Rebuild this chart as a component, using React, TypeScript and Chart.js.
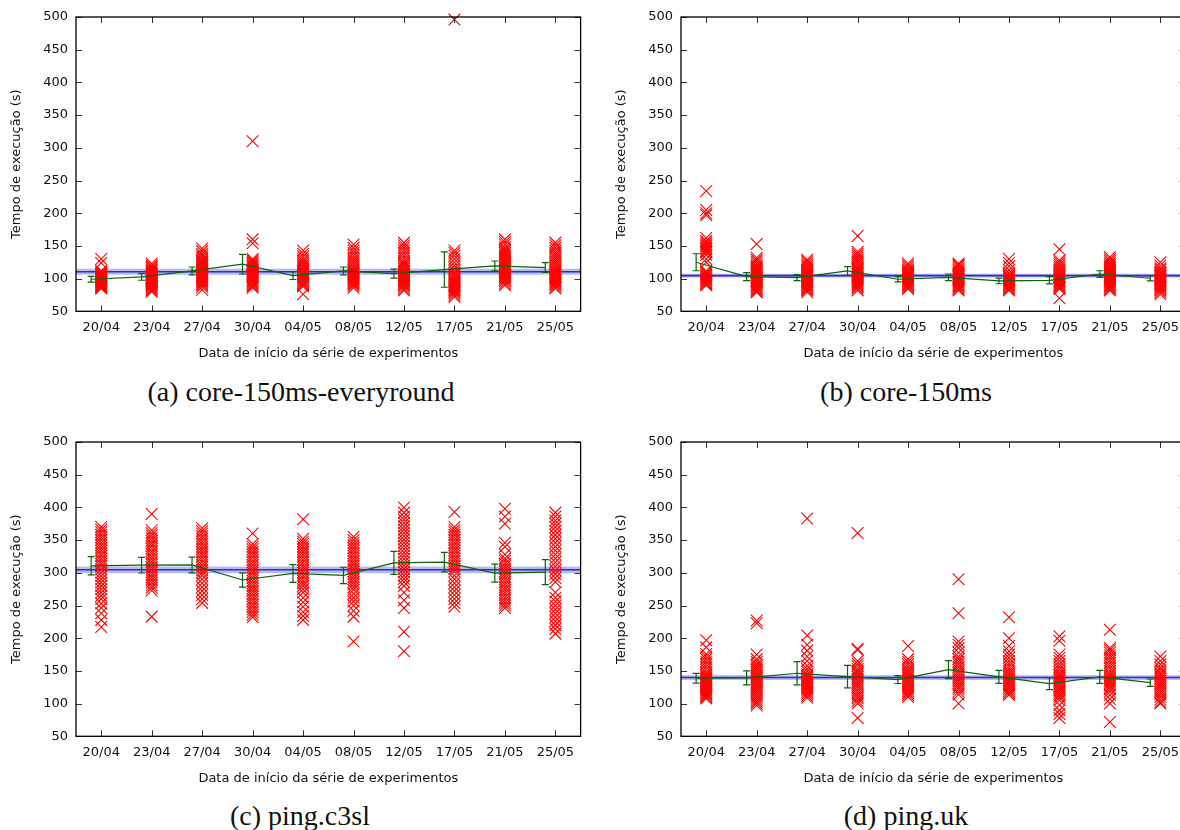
import React, { useEffect, useRef } from 'react';
import { Chart, registerables } from 'chart.js';

Chart.register(...registerables);
Chart.defaults.font.family = '"DejaVu Sans", sans-serif';

const DATES = ['20/04', '23/04', '27/04', '30/04', '04/05', '08/05', '12/05', '17/05', '21/05', '25/05'];
const Y_TICKS = [50, 100, 150, 200, 250, 300, 350, 400, 450, 500];
const Y_TITLE = 'Tempo de execução (s)';
const X_TITLE = 'Data de início da série de experimentos';

// (a) core-150ms-everyround
const A_POINTS = [
  [130, 124, 112, 110, 108, 107, 105, 104, 103, 102, 101, 100, 99, 98, 97, 96, 95, 94, 93, 92, 91, 90, 89, 88, 87, 86, 85],
  [123, 120, 118, 116, 114, 112, 110, 108, 106, 105, 104, 103, 102, 101, 100, 99, 98, 97, 96, 95, 94, 93, 92, 91, 90, 88, 86, 84, 82, 80],
  [146, 142, 138, 135, 132, 129, 127, 125, 123, 121, 119, 117, 115, 113, 111, 110, 108, 106, 104, 102, 100, 98, 96, 94, 92, 90, 87, 83],
  [310, 160, 154, 130, 128, 126, 124, 122, 120, 118, 116, 114, 112, 110, 108, 106, 104, 102, 100, 98, 96, 94, 92, 90, 88, 86],
  [143, 138, 134, 130, 127, 124, 121, 118, 115, 112, 110, 108, 106, 104, 102, 100, 98, 96, 94, 92, 90, 88, 76],
  [152, 147, 143, 139, 135, 131, 128, 125, 122, 119, 116, 113, 111, 109, 107, 105, 103, 101, 99, 97, 95, 93, 91, 89, 86],
  [155, 151, 147, 143, 139, 135, 131, 127, 124, 121, 118, 115, 112, 110, 108, 106, 104, 102, 100, 98, 96, 94, 92, 90, 88, 85, 82],
  [496, 143, 139, 135, 130, 125, 120, 116, 112, 109, 106, 103, 100, 98, 96, 94, 92, 90, 88, 86, 84, 82, 80, 78, 75, 72],
  [160, 156, 152, 148, 145, 142, 139, 136, 133, 130, 127, 124, 121, 118, 116, 114, 112, 110, 108, 106, 104, 102, 100, 98, 96, 93, 90],
  [155, 151, 147, 143, 140, 137, 134, 131, 128, 125, 122, 119, 116, 113, 110, 108, 106, 104, 102, 100, 98, 96, 94, 92, 90, 87, 85],
];
const A_MEANS = [99, 102.5, 111.7, 122, 104.6, 111.7, 107.6, 113.8, 119.4, 116.9];
const A_ERRS = [4.5, 5, 6, 15, 6, 6, 7, 27, 7.5, 7.5];
const A_AVG = 110.5;
const A_BAND = [106, 115];

// (b) core-150ms
const B_POINTS = [
  [234, 205, 200, 197, 162, 158, 155, 152, 150, 147, 145, 142, 140, 136, 130, 125, 112, 110, 108, 106, 104, 102, 100, 99, 97, 95, 93, 91, 90],
  [153, 132, 129, 126, 123, 120, 118, 116, 114, 112, 110, 108, 106, 104, 102, 100, 98, 96, 94, 92, 90, 88, 86, 84, 82, 80, 79],
  [129, 126, 123, 120, 117, 114, 112, 110, 108, 106, 104, 102, 100, 98, 96, 94, 92, 90, 88, 86, 84, 82, 79],
  [165, 141, 138, 135, 132, 129, 126, 123, 120, 117, 115, 113, 111, 109, 107, 105, 103, 101, 99, 97, 95, 93, 91, 89, 87, 85, 82],
  [123, 120, 117, 114, 112, 110, 108, 106, 104, 102, 100, 98, 96, 94, 92, 90, 88, 86, 84],
  [123, 121, 119, 116, 113, 110, 108, 106, 104, 102, 100, 98, 96, 94, 92, 90, 88, 86, 84, 82],
  [130, 124, 119, 113, 109, 106, 104, 102, 100, 98, 96, 94, 92, 90, 88, 86, 84, 82],
  [145, 128, 125, 122, 119, 116, 113, 110, 107, 104, 102, 100, 98, 96, 94, 92, 90, 88, 86, 84, 70],
  [133, 130, 127, 124, 121, 118, 116, 114, 112, 110, 108, 106, 104, 102, 100, 98, 96, 94, 92, 90, 88, 86, 84, 82],
  [125, 120, 116, 113, 110, 108, 106, 104, 102, 100, 98, 96, 94, 92, 90, 88, 86, 84, 82, 79, 76],
];
const B_MEANS = [125, 103, 101.5, 111.7, 99, 102, 96.4, 97.4, 107, 100.5];
const B_ERRS = [13, 6, 4.5, 6.6, 4, 5, 4.3, 5.6, 5, 4];
const B_AVG = 104.6;
const B_BAND = [101.5, 107.5];

// (c) ping.c3sl
const C_POINTS = [
  [370, 366, 362, 358, 354, 350, 346, 342, 338, 334, 330, 326, 322, 318, 314, 310, 305, 300, 295, 290, 285, 280, 275, 270, 265, 260, 253, 246, 238, 228, 217],
  [390, 365, 361, 357, 353, 349, 345, 341, 337, 333, 329, 325, 321, 317, 313, 309, 305, 301, 297, 293, 289, 285, 281, 277, 273, 233],
  [368, 364, 360, 356, 352, 348, 344, 340, 336, 332, 328, 324, 320, 316, 312, 308, 304, 300, 296, 290, 284, 278, 272, 266, 260, 254],
  [360, 344, 340, 336, 332, 328, 324, 320, 316, 312, 308, 304, 300, 296, 292, 288, 284, 280, 276, 272, 268, 264, 260, 256, 252, 248, 244, 240, 236, 232],
  [382, 352, 348, 344, 340, 336, 332, 328, 324, 320, 316, 312, 308, 304, 300, 296, 292, 288, 284, 280, 275, 270, 262, 255, 248, 240, 234, 228],
  [355, 350, 346, 342, 338, 334, 330, 326, 322, 318, 314, 310, 306, 302, 298, 294, 290, 286, 282, 278, 274, 268, 262, 256, 250, 242, 233, 195],
  [400, 392, 386, 381, 376, 371, 366, 361, 356, 351, 346, 341, 336, 331, 326, 321, 316, 311, 306, 301, 296, 291, 286, 280, 270, 258, 246, 210, 180],
  [393, 370, 366, 362, 358, 354, 350, 346, 342, 338, 334, 330, 326, 322, 318, 314, 310, 306, 302, 296, 290, 284, 278, 272, 266, 260, 254, 248],
  [398, 386, 375, 346, 340, 328, 322, 318, 314, 310, 306, 302, 298, 294, 290, 286, 282, 278, 274, 270, 266, 262, 258, 254, 250, 246],
  [392, 386, 380, 375, 370, 364, 358, 352, 346, 340, 334, 328, 322, 316, 310, 304, 298, 292, 286, 270, 262, 256, 250, 244, 238, 232, 226, 220, 214, 207],
];
const C_MEANS = [310.7, 311.7, 312, 289, 299, 296, 315.3, 316.3, 299.5, 301];
const C_ERRS = [14, 12, 12, 11, 13.5, 12.5, 17.6, 15, 13.8, 19];
const C_AVG = 304.6;
const C_BAND = [299.5, 309.5];

// (d) ping.uk
const D_POINTS = [
  [197, 186, 176, 172, 168, 164, 160, 156, 152, 148, 145, 142, 140, 138, 136, 134, 132, 130, 128, 126, 124, 122, 120, 118, 116, 114, 112, 110, 108],
  [227, 223, 175, 168, 164, 160, 157, 154, 151, 148, 145, 142, 139, 136, 133, 130, 127, 124, 121, 118, 115, 112, 109, 106, 103, 100, 97],
  [383, 204, 190, 181, 172, 165, 158, 153, 149, 145, 142, 139, 136, 133, 130, 127, 124, 121, 118, 115, 112, 109],
  [361, 184, 182, 165, 161, 157, 153, 150, 147, 144, 141, 138, 135, 132, 129, 126, 123, 120, 117, 114, 111, 108, 104, 100, 78],
  [188, 168, 164, 160, 156, 152, 149, 146, 143, 140, 137, 134, 131, 128, 125, 122, 119, 116, 113, 110],
  [290, 238, 195, 190, 185, 178, 172, 168, 164, 160, 156, 152, 149, 146, 143, 140, 137, 134, 131, 128, 125, 122, 118, 114, 100],
  [232, 200, 188, 180, 175, 170, 165, 161, 157, 153, 149, 146, 143, 140, 137, 134, 131, 128, 125, 122, 119, 116, 113],
  [203, 196, 175, 170, 165, 160, 156, 152, 148, 145, 142, 139, 136, 133, 130, 127, 124, 121, 118, 115, 112, 109, 105, 98, 90, 84, 78],
  [213, 185, 182, 178, 174, 170, 166, 162, 158, 154, 150, 146, 143, 140, 137, 134, 131, 128, 125, 122, 118, 113, 107, 100, 72],
  [172, 165, 160, 155, 151, 147, 144, 141, 138, 135, 132, 129, 126, 123, 120, 117, 114, 110, 106, 102, 100],
];
const D_MEANS = [138.8, 139.3, 146.4, 141.3, 136.7, 152, 140.8, 130.6, 140.8, 132];
const D_ERRS = [7.4, 10.7, 17.9, 17.3, 6, 13.8, 10, 9.2, 10, 5.6];
const D_AVG = 139.8;
const D_BAND = [136, 143.5];

const GREEN_OFFSET = -0.2;
const CANVAS_W = 590;
const CANVAS_H = 372;

type PanelProps = {
  points: number[][];
  means: number[];
  errs: number[];
  avg: number;
  band: number[];
  left: number;
  top: number;
};

function Panel({ points, means, errs, avg, band, left, top }: PanelProps) {
  const ref = useRef<HTMLCanvasElement | null>(null);

  useEffect(() => {
    if (!ref.current) return;
    const n = DATES.length;
    const scatter: { x: number; y: number }[] = [];
    points.forEach((col, i) => col.forEach((v) => scatter.push({ x: i, y: v })));
    const green = means.map((m, i) => ({ x: i + GREEN_OFFSET, y: m }));

    const errPlugin = {
      id: 'errbars',
      afterDatasetsDraw(chart: any) {
        const { ctx, scales } = chart;
        const xs = scales.x;
        const ys = scales.y;
        ctx.save();
        ctx.strokeStyle = '#0b640b';
        ctx.lineWidth = 1.2;
        ctx.beginPath();
        means.forEach((m, i) => {
          const px = xs.getPixelForValue(i + GREEN_OFFSET);
          const y1 = ys.getPixelForValue(m + errs[i]);
          const y2 = ys.getPixelForValue(m - errs[i]);
          ctx.moveTo(px, y1);
          ctx.lineTo(px, y2);
          ctx.moveTo(px - 3.5, y1);
          ctx.lineTo(px + 3.5, y1);
          ctx.moveTo(px - 3.5, y2);
          ctx.lineTo(px + 3.5, y2);
        });
        ctx.stroke();
        ctx.restore();
      },
    };

    const framePlugin = {
      id: 'frame',
      afterDraw(chart: any) {
        const { ctx, chartArea: a, scales } = chart;
        const xs = scales.x;
        const ys = scales.y;
        const L = 6;
        ctx.save();
        ctx.strokeStyle = '#333';
        ctx.lineWidth = 1;
        ctx.beginPath();
        DATES.forEach((_, i) => {
          const px = Math.round(xs.getPixelForValue(i)) + 0.5;
          ctx.moveTo(px, a.bottom);
          ctx.lineTo(px, a.bottom - L);
          ctx.moveTo(px, a.top);
          ctx.lineTo(px, a.top + L);
        });
        Y_TICKS.forEach((v) => {
          const py = Math.round(ys.getPixelForValue(v)) + 0.5;
          ctx.moveTo(a.left, py);
          ctx.lineTo(a.left + L, py);
          ctx.moveTo(a.right, py);
          ctx.lineTo(a.right - L, py);
        });
        ctx.stroke();
        ctx.strokeStyle = '#000';
        ctx.lineWidth = 1.3;
        ctx.strokeRect(a.left, a.top, a.right - a.left, a.bottom - a.top);
        ctx.restore();
      },
    };

    const chart = new Chart(ref.current, {
      type: 'line',
      data: {
        datasets: [
          {
            type: 'line',
            data: [{ x: -0.5, y: band[1] }, { x: n - 0.5, y: band[1] }],
            fill: { value: band[0] },
            backgroundColor: 'rgba(120,120,215,0.5)',
            borderWidth: 0,
            pointRadius: 0,
            order: 4,
          },
          {
            type: 'line',
            data: [{ x: -0.5, y: avg }, { x: n - 0.5, y: avg }],
            borderColor: '#2a2ae6',
            borderWidth: 1.6,
            pointRadius: 0,
            fill: false,
            order: 3,
          },
          {
            type: 'scatter',
            data: scatter,
            pointStyle: 'crossRot',
            pointRadius: 8.3,
            borderColor: '#ff0000',
            pointBorderColor: '#ff0000',
            borderWidth: 1.1,
            pointBorderWidth: 1.1,
            clip: false,
            order: 2,
          },
          {
            type: 'line',
            data: green,
            borderColor: '#0b640b',
            borderWidth: 1.2,
            pointRadius: 0,
            fill: false,
            tension: 0,
            order: 1,
          },
        ],
      } as any,
      options: {
        responsive: false,
        animation: false,
        devicePixelRatio: 1,
        layout: { padding: { top: 17, right: 7, left: 0, bottom: 0 } },
        plugins: { legend: { display: false }, tooltip: { enabled: false } },
        scales: {
          x: {
            type: 'linear',
            min: -0.5,
            max: n - 0.5,
            grid: { display: false, drawTicks: false },
            border: { display: false },
            afterBuildTicks: (s: any) => {
              s.ticks = DATES.map((_, i) => ({ value: i }));
            },
            afterFit: (s: any) => {
              s.height = CANVAS_H - 17 - 294.3;
            },
            ticks: {
              autoSkip: false,
              maxRotation: 0,
              padding: 9,
              color: '#111',
              font: { size: 13 },
              callback: (v: any) => DATES[Math.round(Number(v))] ?? '',
            },
            title: {
              display: true,
              text: X_TITLE,
              color: '#111',
              font: { size: 13 },
              padding: { top: 0, bottom: 11 },
            },
          },
          y: {
            type: 'linear',
            min: 50,
            max: 500,
            grid: { display: false, drawTicks: false },
            border: { display: false },
            afterBuildTicks: (s: any) => {
              s.ticks = Y_TICKS.map((v) => ({ value: v }));
            },
            afterFit: (s: any) => {
              s.width = 76;
            },
            ticks: { padding: 8, color: '#111', font: { size: 13 } },
            title: {
              display: true,
              text: Y_TITLE,
              color: '#111',
              font: { size: 13 },
              padding: { top: 9, bottom: 0 },
            },
          },
        },
      } as any,
      plugins: [errPlugin, framePlugin],
    });
    return () => chart.destroy();
  }, [points, means, errs, avg, band]);

  return (
    <canvas
      ref={ref}
      width={CANVAS_W}
      height={CANVAS_H}
      style={{ position: 'absolute', left, top, width: CANVAS_W, height: CANVAS_H, display: 'block' }}
    />
  );
}

function Caption({ text, cx, cy }: { text: string; cx: number; cy: number }) {
  return (
    <div
      style={{
        position: 'absolute',
        left: cx - 300,
        top: cy - 16,
        width: 600,
        height: 32,
        lineHeight: '32px',
        textAlign: 'center',
        fontFamily: '"Liberation Serif", serif',
        fontSize: 28,
        color: '#111',
        whiteSpace: 'nowrap',
      }}
    >
      {text}
    </div>
  );
}

export default function App() {
  return (
    <div
      style={{
        position: 'fixed',
        left: 0,
        top: 0,
        width: 1180,
        height: 830,
        overflow: 'hidden',
        background: '#fff',
      }}
    >
      <Panel points={A_POINTS} means={A_MEANS} errs={A_ERRS} avg={A_AVG} band={A_BAND} left={0} top={0} />
      <Panel points={B_POINTS} means={B_MEANS} errs={B_ERRS} avg={B_AVG} band={B_BAND} left={605} top={0} />
      <Panel points={C_POINTS} means={C_MEANS} errs={C_ERRS} avg={C_AVG} band={C_BAND} left={0} top={425} />
      <Panel points={D_POINTS} means={D_MEANS} errs={D_ERRS} avg={D_AVG} band={D_BAND} left={605} top={425} />
      <Caption text="(a) core-150ms-everyround" cx={301} cy={392} />
      <Caption text="(b) core-150ms" cx={906} cy={392} />
      <Caption text="(c) ping.c3sl" cx={300} cy={816} />
      <Caption text="(d) ping.uk" cx={906} cy={816} />
    </div>
  );
}
